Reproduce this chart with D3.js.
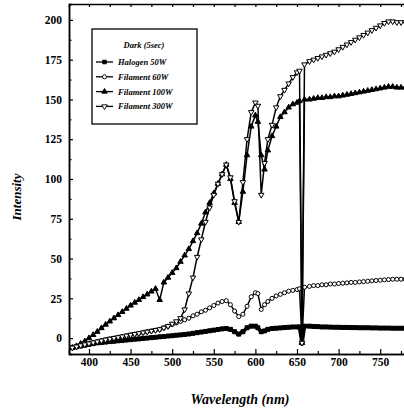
<!DOCTYPE html>
<html lang="en">

<head>
    <meta charset="UTF-8">
    <title>Intensity vs Wavelength</title>
    <script src="https://d3js.org/d3.v7.min.js"></script>
    <style>
        body { margin: 0; background: #fff; }
        text { font-family: "Liberation Serif", "DejaVu Serif", serif; }
    </style>
</head>

<body>
    <svg width="404" height="412" class="block"></svg>
</body>

<script>
    // wavelength (nm), shared by all series
    var wavelength = [380, 385, 390, 395, 400, 405, 410, 415, 420, 425, 430, 435, 440, 445, 450, 455, 460, 465, 470, 475,
        480, 485, 490, 495, 500, 505, 510, 515, 520, 525, 530, 535, 540, 545, 550, 555, 560, 565, 570, 575,
        580, 585, 590, 595, 600, 603, 607, 611, 615, 620, 625, 630, 635, 640, 645, 650, 653, 656, 659,
        665, 670, 675, 680, 685, 690, 695, 700, 705, 710, 715, 720, 725, 730, 735, 740, 745, 750, 755, 760, 765, 770, 775, 780];

    var halogen50 = [-6, -5.5, -5, -4.5, -4, -3.5, -3, -2.8, -2.5, -2.2, -2, -1.7, -1.5, -1.2, -1, -0.7, -0.5, -0.2, 0, 0.3,
        0.5, 0.8, 1, 1.3, 1.5, 1.8, 2, 2.3, 2.6, 3, 3.4, 3.8, 4.2, 4.6, 5, 5.4, 5.8, 6, 5.5, 4,
        2.5, 4, 6.5, 7.5, 7.5, 6.5, 4, 4.5, 5.5, 6, 6.2, 6.4, 6.6, 6.8, 7, 7, 7, -3, 7.5,
        7.5, 7.3, 7.2, 7, 7, 6.9, 6.8, 6.8, 6.7, 6.7, 6.6, 6.6, 6.5, 6.5, 6.5, 6.4, 6.4, 6.3, 6.3, 6.3, 6.2, 6.2, 6.2, 6.2];

    var filament60 = [-6, -5.3, -4.6, -4, -3.4, -2.8, -2.2, -1.6, -1, -0.5, 0, 0.5, 1, 1.5, 2, 2.5, 3, 3.5, 4, 4.5,
        5, 5.5, 6.5, 7.5, 8.5, 9.5, 10.5, 11.5, 12.5, 14, 15, 16.5, 17.5, 19, 20.5, 22, 23, 23.5, 21, 17,
        13.5, 15, 20, 26, 28.5, 28, 18, 21, 23, 25, 26.5, 27.5, 28.5, 29.5, 30, 30.5, 31, -2, 32,
        32.5, 33, 33, 33.5, 33.5, 34, 34, 34.3, 34.5, 34.7, 35, 35, 35.3, 35.5, 35.7, 36, 36.2, 36.4, 36.6, 36.8, 37, 37, 37, 37];

    var filament100 = [-6, -5, -3.5, -2, 0, 2, 4, 6.3, 8.5, 10.5, 12.5, 14.5, 16.5, 18.5, 20.5, 22.3, 24, 25.8, 27.5, 29.3,
        31, 24, 35, 38, 41, 44, 48, 52, 56, 61, 66, 72, 79, 85, 91, 97, 103, 109, 100, 85,
        73, 92, 115, 133, 140, 136, 115, 106, 118, 127, 133, 139, 142, 145, 147, 148, 149, -3, 150,
        150, 150.5, 151, 151, 151.5, 151.5, 152, 152, 152.5, 153, 153.5, 154, 154.5, 155, 155.5, 156, 156.5, 157, 157.5, 158, 158, 157.5, 157.5, 157.5];

    var filament300 = [-6, -5.3, -4.6, -4, -3.4, -2.8, -2.2, -1.6, -1, -0.5, 0, 0.5, 1, 1.5, 2, 2.5, 3, 3.5, 4, 4.5,
        5, 5.5, 6.5, 7.5, 9, 10.5, 12.5, 18, 28, 38, 51, 62, 73, 82, 90, 97, 103, 109, 101, 86,
        73, 98, 125, 142, 148, 146, 90, 110, 125, 134, 145, 152, 156, 160, 164, 167, 168, -3, 172,
        174, 175, 176, 177, 178, 179, 180, 181.5, 183, 184.5, 186, 187.5, 189, 190.5, 192, 193.5, 195, 196.5, 198, 199, 199, 198.5, 198.5, 198.5];

    var seriesNames = ['Halogen 50W', 'Filament 60W', 'Filament 100W', 'Filament 300W'];
    var xTicks = [400, 450, 500, 550, 600, 650, 700, 750];
    var yTicks = [0, 25, 50, 75, 100, 125, 150, 175, 200];

    var series = [
        { name: seriesNames[0], values: halogen50, shape: 'square' },
        { name: seriesNames[1], values: filament60, shape: 'circle' },
        { name: seriesNames[2], values: filament100, shape: 'up' },
        { name: seriesNames[3], values: filament300, shape: 'down' }
    ];

    var plotLeft = 69, plotRight = 406, plotTop = 4, plotBottom = 354;

    // scales
    var x = d3.scaleLinear().domain([376, 781]).range([plotLeft, plotRight]);
    var y = d3.scaleLinear().domain([-10, 210]).range([plotBottom, plotTop]);

    var svg = d3.select('.block');

    svg.append('clipPath').attr('id', 'plot')
        .append('rect')
        .attr('x', plotLeft).attr('y', plotTop)
        .attr('width', plotRight - plotLeft).attr('height', plotBottom - plotTop);

    // axes, ticks inward
    var xAxis = d3.axisTop(x).tickValues(d3.range(400, 781, 25)).tickSize(4).tickFormat('');
    var xLabels = d3.axisBottom(x).tickValues(xTicks).tickSize(0).tickPadding(4).tickFormat(d3.format('d'));
    var yAxis = d3.axisRight(y).tickValues(d3.range(0, 201, 12.5)).tickSize(3).tickFormat('');
    var yLabels = d3.axisLeft(y).tickValues(yTicks).tickSize(0).tickPadding(7);

    var gx = svg.append('g').attr('transform', 'translate(0,' + plotBottom + ')').call(xAxis);
    gx.selectAll('.tick line').attr('y2', function (d) { return d % 50 === 0 ? -5 : -3; });
    svg.append('g').attr('transform', 'translate(0,' + plotBottom + ')').call(xLabels);

    var gy = svg.append('g').attr('transform', 'translate(' + plotLeft + ',0)').call(yAxis);
    gy.selectAll('.tick line').attr('x2', function (d) { return d % 25 === 0 ? 4 : 2.5; });
    svg.append('g').attr('transform', 'translate(' + plotLeft + ',0)').call(yLabels);

    // top frame
    svg.append('g').attr('transform', 'translate(0,' + plotTop + ')')
        .call(d3.axisBottom(x).tickValues(d3.range(400, 781, 25)).tickSize(3).tickFormat(''));

    svg.selectAll('.domain').attr('stroke', '#000').attr('stroke-width', 1.5);
    svg.selectAll('.tick line').attr('stroke', '#000').attr('stroke-width', 1.2);
    svg.selectAll('.tick text')
        .attr('font-size', 11.5).attr('font-weight', 'bold').attr('fill', '#000')
        .style('font-family', '"Liberation Serif", serif');

    // marker symbols
    function symbolPath(shape, size) {
        if (shape === 'square') return d3.symbol().type(d3.symbolSquare).size(size)();
        if (shape === 'circle') return d3.symbol().type(d3.symbolCircle).size(size)();
        return d3.symbol().type(d3.symbolTriangle).size(size)();
    }
    function symbolFill(shape) {
        return (shape === 'square' || shape === 'up') ? '#000' : '#fff';
    }

    var line = d3.line()
        .x(function (d, i) { return x(wavelength[i]); })
        .y(function (d) { return y(d); });

    var plot = svg.append('g').attr('clip-path', 'url(#plot)');

    series.forEach(function (s) {
        plot.append('path')
            .datum(s.values)
            .attr('d', line)
            .attr('fill', 'none')
            .attr('stroke', '#000')
            .attr('stroke-width', s.shape === 'square' ? 3.6 : 1.5);

        plot.selectAll('.m-' + s.shape)
            .data(s.values)
            .enter()
            .append('path')
            .attr('class', 'm-' + s.shape)
            .attr('d', symbolPath(s.shape, s.shape === 'square' ? 16 : 13))
            .attr('transform', function (d, i) {
                return 'translate(' + x(wavelength[i]) + ',' + y(d) + ')' + (s.shape === 'down' ? ' rotate(180)' : '');
            })
            .attr('fill', symbolFill(s.shape))
            .attr('stroke', '#000')
            .attr('stroke-width', 1);
    });

    // legend
    var lg = svg.append('g');
    lg.append('rect')
        .attr('x', 92).attr('y', 29).attr('width', 105).attr('height', 95)
        .attr('fill', '#fff').attr('stroke', '#000').attr('stroke-width', 1.3);
    lg.append('text')
        .attr('x', 144).attr('y', 48)
        .attr('text-anchor', 'middle')
        .attr('font-size', 8.5).attr('font-weight', 'bold').attr('font-style', 'italic')
        .text('Dark (5sec)');

    series.forEach(function (s, i) {
        var ly = 62 + i * 14.8;
        lg.append('line')
            .attr('x1', 96).attr('x2', 113).attr('y1', ly).attr('y2', ly)
            .attr('stroke', '#000').attr('stroke-width', 1.3);
        lg.append('path')
            .attr('d', symbolPath(s.shape, 13))
            .attr('transform', 'translate(104.5,' + ly + ')' + (s.shape === 'down' ? ' rotate(180)' : ''))
            .attr('fill', symbolFill(s.shape))
            .attr('stroke', '#000').attr('stroke-width', 0.9);
        lg.append('text')
            .attr('x', 118).attr('y', ly + 3)
            .attr('font-size', 8.5).attr('font-weight', 'bold').attr('font-style', 'italic')
            .text(s.name);
    });

    // axis titles
    svg.append('text')
        .attr('x', 240).attr('y', 404)
        .attr('text-anchor', 'middle')
        .attr('font-size', 14).attr('font-weight', 'bold').attr('font-style', 'italic')
        .text('Wavelength (nm)');

    svg.append('text')
        .attr('transform', 'translate(21,197) rotate(-90)')
        .attr('text-anchor', 'middle')
        .attr('font-size', 13).attr('font-weight', 'bold').attr('font-style', 'italic')
        .text('Intensity');
</script>

</html>
